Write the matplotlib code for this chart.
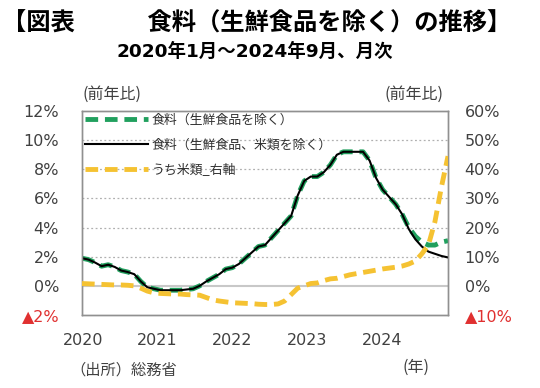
import matplotlib
matplotlib.use("Agg")
import matplotlib.pyplot as plt
from matplotlib.lines import Line2D

plt.rcParams['font.family'] = ['Noto Sans CJK JP', 'DejaVu Sans']

# ---- data (monthly, Jan 2020 - Sep 2024) ----
food_ex_fresh = [1.9, 1.8, 1.6, 1.35, 1.45, 1.3, 1.05, 0.95, 0.8, 0.3, -0.1, -0.2,
                 -0.3, -0.3, -0.3, -0.3, -0.25, -0.2, 0.0, 0.3, 0.55, 0.8, 1.15, 1.25,
                 1.5, 1.9, 2.3, 2.7, 2.8, 3.3, 3.8, 4.3, 4.8, 6.2, 7.2, 7.5,
                 7.5, 7.8, 8.3, 9.0, 9.2, 9.2, 9.2, 9.2, 8.6, 7.4, 6.6, 6.1,
                 5.6, 4.9, 4.0, 3.4, 3.0, 2.8, 2.8, 3.0, 3.1]
food_ex_fresh_rice = [1.9, 1.8, 1.6, 1.35, 1.45, 1.3, 1.05, 0.95, 0.8, 0.3, -0.1, -0.2,
                      -0.3, -0.3, -0.3, -0.3, -0.25, -0.2, 0.0, 0.3, 0.55, 0.8, 1.15, 1.25,
                      1.5, 1.9, 2.3, 2.7, 2.8, 3.3, 3.8, 4.3, 4.8, 6.2, 7.2, 7.5,
                      7.5, 7.8, 8.3, 9.0, 9.2, 9.2, 9.2, 9.2, 8.6, 7.4, 6.6, 6.1,
                      5.6, 4.9, 3.9, 3.2, 2.7, 2.35, 2.2, 2.05, 1.95]
rice = [0.8, 0.7, 0.6, 0.5, 0.4, 0.3, 0.3, 0.2, 0.0, -0.8, -1.8, -2.4,
        -2.6, -2.7, -2.8, -2.8, -3.0, -3.1, -3.2, -4.0, -4.8, -5.2, -5.5, -5.8,
        -5.9, -6.0, -6.1, -6.3, -6.4, -6.4, -6.2, -5.2, -3.0, -0.8, 0.0, 0.8,
        1.0, 1.8, 2.4, 2.6, 3.2, 3.8, 4.2, 4.6, 5.0, 5.4, 5.8, 6.1,
        6.4, 6.8, 7.5, 8.5, 11.0, 14.0, 22.0, 34.0, 44.5]
months = list(range(len(food_ex_fresh)))

year_labels = ['2020', '2021', '2022', '2023', '2024']
year_pos = [0.15, 11.5, 23.0, 34.4, 45.9]
left_ticks = [-2, 0, 2, 4, 6, 8, 10, 12]
left_labels = ['▲2%', '0%', '2%', '4%', '6%', '8%', '10%', '12%']
right_ticks = [-10, 0, 10, 20, 30, 40, 50, 60]
right_labels = ['▲10%', '0%', '10%', '20%', '30%', '40%', '50%', '60%']
legend_labels = ['食料（生鮮食品を除く）', '食料（生鮮食品、米類を除く）', 'うち米類_右軸']

GREEN = '#21a05e'
YELLOW = '#f5c232'
TXT = '#404040'
RED = '#e03030'
NUMFONT = ['DejaVu Sans', 'Noto Sans CJK JP']

fig = plt.figure(figsize=(5.4, 3.88), dpi=100)
ax = fig.add_axes([82/540, 1-315/388, (448-82)/540, (315-111)/388])
ax2 = ax.twinx()

ax.plot(months, food_ex_fresh, color=GREEN, lw=3.5, dashes=(2.6, 1.4), zorder=3)
ax.plot(months, food_ex_fresh_rice, color='black', lw=1.5, zorder=4)
ax2.plot(months, rice, color=YELLOW, lw=3.5, dashes=(2.6, 1.4), zorder=3)

ax.set_xlim(0, 56)
ax.set_ylim(-2, 12)
ax2.set_ylim(-10, 60)

for v in [2, 4, 6, 8, 10]:
    ax.axhline(v, color='#b0b0b0', lw=0.9, ls=(0, (1.5, 2)), zorder=1)
ax.axhline(0, color='#c8c8c8', lw=1.5, zorder=1)

ax.set_xticks(year_pos)
ax.set_xticklabels(year_labels, fontsize=11.5, color=TXT, family=NUMFONT)
ax.set_yticks(left_ticks)
ax.set_yticklabels(left_labels, fontsize=11.5, color=TXT, family=NUMFONT)
ax2.set_yticks(right_ticks)
ax2.set_yticklabels(right_labels, fontsize=11.5, color=TXT, family=NUMFONT)
ax.get_yticklabels()[0].set_color(RED)
ax2.get_yticklabels()[0].set_color(RED)

ax.tick_params(axis='x', length=0, pad=13)
ax.tick_params(axis='y', length=0, pad=16.5)
ax2.tick_params(axis='y', length=0, pad=12)

for a in (ax, ax2):
    for s in a.spines.values():
        s.set_color('#909090')
        s.set_linewidth(1.0)

handles = [Line2D([], [], color=GREEN, lw=3.5, dashes=(2.6, 1.4)),
           Line2D([], [], color='black', lw=1.5),
           Line2D([], [], color=YELLOW, lw=3.5, dashes=(2.6, 1.4))]
leg = ax2.legend(handles, legend_labels, loc='upper left', bbox_to_anchor=(0.0, 1.0),
                 frameon=False, fontsize=9.3, handlelength=4.9, handletextpad=0.3,
                 labelspacing=0.92, borderaxespad=0.1, borderpad=0.1)
for t in leg.get_texts():
    t.set_color('#303030')

fig.text(2/540, 1-24/388, '【図表　　　食料（生鮮食品を除く）の推移】', fontsize=17.5,
         fontweight='bold', ha='left', va='center', color='black')
fig.text(255/540, 1-52/388, '2020年1月～2024年9月、月次', fontsize=13.3,
         fontweight='bold', ha='center', va='center', color='black', family=NUMFONT)
fig.text(83/540, 1-94/388, '(前年比)', fontsize=11.5, ha='left', va='center', color=TXT)
fig.text(444/540, 1-94/388, '(前年比)', fontsize=11.5, ha='right', va='center', color=TXT)
fig.text(70/540, 1-370/388, '（出所）総務省', fontsize=11, ha='left', va='center', color=TXT)
fig.text(429/540, 1-367/388, '(年)', fontsize=11.5, ha='right', va='center', color=TXT)

fig.savefig('out.png', dpi=100, facecolor='white')
